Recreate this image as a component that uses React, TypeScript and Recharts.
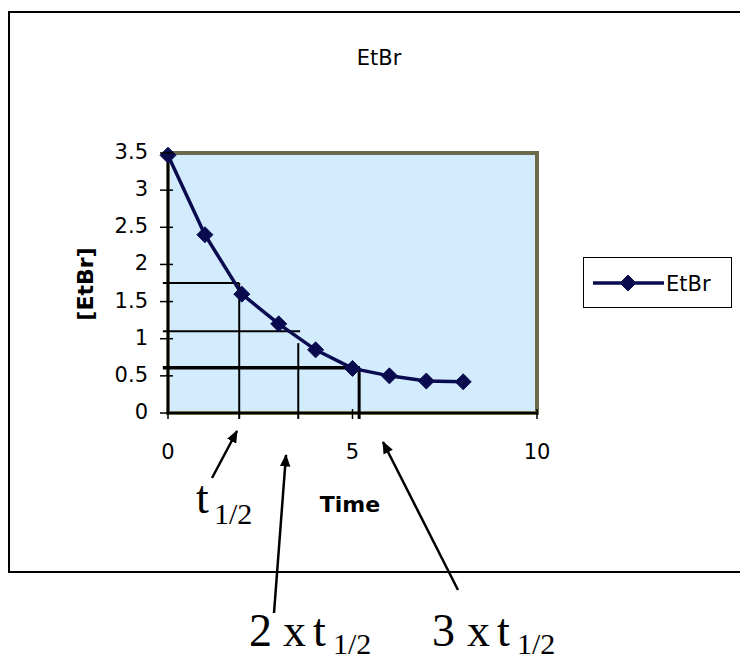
import React from "react";
import {
  LineChart,
  Line,
  XAxis,
  YAxis,
  ReferenceArea,
  ReferenceLine,
} from "recharts";

// measured points (time, [EtBr])
const times = [0, 1, 2, 3, 4, 5, 6, 7, 8];
const etbrValues = [3.47, 2.4, 1.6, 1.2, 0.85, 0.6, 0.5, 0.43, 0.42];

const xTicks = [0, 5, 10];
const yTicks = [0, 0.5, 1, 1.5, 2, 2.5, 3, 3.5];

// half-life guide lines drawn on the plot
const guideLevels = [1.75, 1.1, 0.61];
const guideLevelEnds = [1.93, 3.58, 5.2];
const guideTimes = [1.93, 3.53, 5.18];
const guideTops = [1.75, 0.94, 0.61];
const guideWidths = [2, 2, 3.5];

const data = times.map((t, i) => ({ t, etbr: etbrValues[i] }));

const NAVY = "#0a0a4e";
const SANS = "'DejaVu Sans', Arial, sans-serif";
const SERIF = "'Liberation Serif', 'Times New Roman', serif";

function Diamond({ cx, cy }: { cx?: number; cy?: number }) {
  if (cx == null || cy == null) return null;
  const r = 8;
  return (
    <polygon
      points={`${cx},${cy - r} ${cx + r},${cy} ${cx},${cy + r} ${cx - r},${cy}`}
      fill={NAVY}
      stroke={NAVY}
      strokeWidth={1}
      strokeLinejoin="round"
    />
  );
}

function YTick({ x, y, payload }: any) {
  return (
    <g>
      <line x1={x - 8} x2={x + 5} y1={y} y2={y} stroke="#000" strokeWidth={1.5} />
      <text
        x={x - 20}
        y={y + 6}
        textAnchor="end"
        fontFamily={SANS}
        fontSize={21}
        fill="#000"
      >
        {payload.value}
      </text>
    </g>
  );
}

function XTick({ x, y, payload }: any) {
  return (
    <g>
      <line x1={x} x2={x} y1={y - 4} y2={y + 6} stroke="#000" strokeWidth={1.5} />
      <text
        x={x}
        y={y + 46}
        textAnchor="middle"
        fontFamily={SANS}
        fontSize={21}
        fill="#000"
      >
        {payload.value}
      </text>
    </g>
  );
}

function LegendBox() {
  return (
    <div
      style={{
        position: "absolute",
        left: 583,
        top: 257,
        width: 149,
        height: 51,
        border: "1px solid #000",
        background: "#fff",
        boxSizing: "border-box",
      }}
    >
      <svg width={149} height={51} style={{ position: "absolute", left: 0, top: 0 }}>
        <line x1={9} x2={80} y1={25} y2={25} stroke={NAVY} strokeWidth={3.5} />
        <Diamond cx={44} cy={25} />
        <text x={82} y={33} fontFamily={SANS} fontSize={21} fill="#000">
          EtBr
        </text>
      </svg>
    </div>
  );
}

function Arrow({ x1, y1, x2, y2 }: { x1: number; y1: number; x2: number; y2: number }) {
  return (
    <line
      x1={x1}
      y1={y1}
      x2={x2}
      y2={y2}
      stroke="#000"
      strokeWidth={2.5}
      markerEnd="url(#arrowHead)"
    />
  );
}

export default function App() {
  return (
    <div
      style={{
        position: "absolute",
        left: 0,
        top: 0,
        width: 740,
        height: 660,
        overflow: "hidden",
        background: "#fff",
      }}
    >
      <svg width={0} height={0} style={{ position: "absolute" }}>
        <defs>
          <marker
            id="arrowHead"
            viewBox="0 0 12 10"
            refX={11}
            refY={5}
            markerWidth={5}
            markerHeight={5}
            orient="auto"
          >
            <path d="M0,0 L12,5 L0,10 z" fill="#000" />
          </marker>
        </defs>
      </svg>

      <LineChart
        width={740}
        height={660}
        data={data}
        margin={{ top: 153, right: 203, bottom: 217, left: 108 }}
        style={{ position: "absolute", left: 0, top: 0 }}
      >
        <ReferenceArea
          x1={0}
          x2={10}
          y1={0}
          y2={3.5}
          fill="#d2ebfd"
          fillOpacity={1}
          stroke="#6b6b4b"
          strokeWidth={4}
        />
        <XAxis
          type="number"
          dataKey="t"
          domain={[0, 10]}
          ticks={xTicks}
          height={30}
          tickSize={0}
          tickMargin={0}
          tickLine={false}
          axisLine={{ stroke: "#000", strokeWidth: 2 }}
          tick={<XTick />}
        />
        <YAxis
          type="number"
          domain={[0, 3.5]}
          ticks={yTicks}
          width={60}
          tickSize={0}
          tickMargin={0}
          tickLine={false}
          axisLine={{ stroke: "#000", strokeWidth: 2 }}
          tick={<YTick />}
        />
        {guideLevels.map((lvl, i) => (
          <ReferenceLine
            key={`h${i}`}
            segment={[
              { x: -0.14, y: lvl },
              { x: guideLevelEnds[i], y: lvl },
            ]}
            stroke="#000"
            strokeWidth={guideWidths[i]}
            ifOverflow="visible"
          />
        ))}
        {guideTimes.map((t, i) => (
          <ReferenceLine
            key={`v${i}`}
            segment={[
              { x: t, y: -0.08 },
              { x: t, y: guideTops[i] },
            ]}
            stroke="#000"
            strokeWidth={guideWidths[i] > 2 ? 3 : 2}
            ifOverflow="visible"
          />
        ))}
        <Line
          type="linear"
          dataKey="etbr"
          name="EtBr"
          stroke={NAVY}
          strokeWidth={3.5}
          dot={<Diamond />}
          activeDot={false}
          isAnimationActive={false}
        />
      </LineChart>

      <LegendBox />

      <svg
        width={740}
        height={660}
        style={{ position: "absolute", left: 0, top: 0, pointerEvents: "none" }}
      >
        {/* chart frame */}
        <polyline
          points="742,12 9,12 9,572 742,572"
          fill="none"
          stroke="#000"
          strokeWidth={2}
        />
        <text x={379} y={65} textAnchor="middle" fontFamily={SANS} fontSize={21} fill="#000">
          EtBr
        </text>
        <text
          x={0}
          y={0}
          transform="translate(93,284) rotate(-90)"
          textAnchor="middle"
          fontFamily={SANS}
          fontSize={22}
          fontWeight="bold"
          fill="#000"
        >
          [EtBr]
        </text>
        <text x={350} y={512} textAnchor="middle" fontFamily={SANS} fontSize={22} fontWeight="bold" fill="#000">
          Time
        </text>

        <Arrow x1={212} y1={478} x2={237} y2={431} />
        <Arrow x1={274} y1={613} x2={286} y2={455} />
        <Arrow x1={458} y1={590} x2={383} y2={442} />

        <text fontFamily={SERIF} fontSize={46} fill="#000" y={513}>
          <tspan x={196}>t</tspan>
          <tspan x={214} fontSize={30} dy={11}>1/2</tspan>
        </text>
        <text fontFamily={SERIF} fontSize={46} fill="#000" y={646}>
          <tspan x={249}>2</tspan>
          <tspan x={283}>x</tspan>
          <tspan x={313}>t</tspan>
          <tspan x={333} fontSize={30} dy={8}>1/2</tspan>
        </text>
        <text fontFamily={SERIF} fontSize={46} fill="#000" y={646}>
          <tspan x={432}>3</tspan>
          <tspan x={467}>x</tspan>
          <tspan x={497}>t</tspan>
          <tspan x={517} fontSize={30} dy={8}>1/2</tspan>
        </text>
      </svg>
    </div>
  );
}
